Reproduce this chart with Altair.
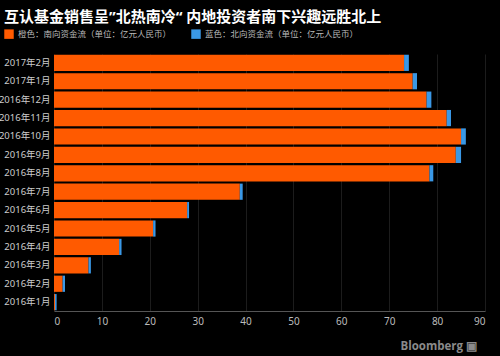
import altair as alt
import pandas as pd

months = ["2017年2月", "2017年1月", "2016年12月", "2016年11月", "2016年10月", "2016年9月",
          "2016年8月", "2016年7月", "2016年6月", "2016年5月", "2016年4月", "2016年3月",
          "2016年2月", "2016年1月"]
south = [73.1, 74.9, 77.8, 82.0, 85.0, 83.9, 78.4, 38.8, 27.8, 20.7, 13.6, 7.2, 1.8, 0.2]
north = [1.0, 0.9, 1.0, 0.9, 1.0, 1.1, 0.8, 0.6, 0.4, 0.5, 0.5, 0.5, 0.5, 0.35]
series = ["橙色：南向资金流（单位：亿元人民币）", "蓝色：北向资金流（单位：亿元人民币）"]
colors = ["#FF5A00", "#3A98E6"]
x_ticks = [0, 10, 20, 30, 40, 50, 60, 70, 80, 90]

rows = []
for m, s, n in zip(months, south, north):
    rows.append({"month": m, "series": series[0], "value": s, "ord": 0})
    rows.append({"month": m, "series": series[1], "value": n, "ord": 1})
df = pd.DataFrame(rows)

FONT = "Noto Sans CJK SC"
TFONT = "Noto Sans, Noto Sans CJK SC"

bars = alt.Chart(df).mark_bar().encode(
    y=alt.Y("month:N", sort=months, title=None,
            scale=alt.Scale(paddingInner=0.12, paddingOuter=0.04),
            axis=alt.Axis(labelColor="#cccccc", labelFontSize=9.5, labelFont=TFONT,
                          ticks=False, domain=False, labelPadding=4, grid=False)),
    x=alt.X("value:Q", stack="zero", title=None,
            scale=alt.Scale(domain=[0, 90], nice=False),
            axis=alt.Axis(values=x_ticks, labelColor="#bbbbbb", labelFontSize=10,
                          labelFont=TFONT, ticks=False, domainColor="#555555",
                          gridColor="#1c1c1c", labelPadding=5)),
    color=alt.Color("series:N", sort=series,
                    scale=alt.Scale(domain=series, range=colors),
                    legend=alt.Legend(title=None, orient="none", direction="horizontal",
                                      legendX=-50, legendY=-25, symbolType="square",
                                      symbolSize=90, symbolStrokeWidth=0,
                                      labelColor="#bbbbbb", labelFontSize=8.5,
                                      labelFont=FONT, columnPadding=19, symbolOffset=0)),
    order=alt.Order("ord:Q"),
)

title = alt.Chart(pd.DataFrame({"t": ["互认基金销售呈”北热南冷“  内地投资者南下兴趣远胜北上"]})).mark_text(
    align="left", baseline="alphabetic", fontSize=15, fontWeight="bold", color="#ffffff", font=TFONT
).encode(x=alt.value(-50), y=alt.value(-32), text="t:N")

brand = alt.Chart(pd.DataFrame({"t": ["Bloomberg ▣"]})).mark_text(
    align="right", baseline="alphabetic", fontSize=11.5, fontWeight="bold", color="#8a8a8a", font="Open Sans"
).encode(x=alt.value(423), y=alt.value(296), text="t:N")

chart = alt.layer(bars, title, brand).properties(
    width=431, height=257,
    background="#000000",
    padding={"left": 54, "top": 54, "right": 15, "bottom": 45},
    autosize=alt.AutoSizeParams(type="none"),
).configure_view(stroke=None)

chart.save("out.html", embed_options={"renderer": "svg", "actions": False})
